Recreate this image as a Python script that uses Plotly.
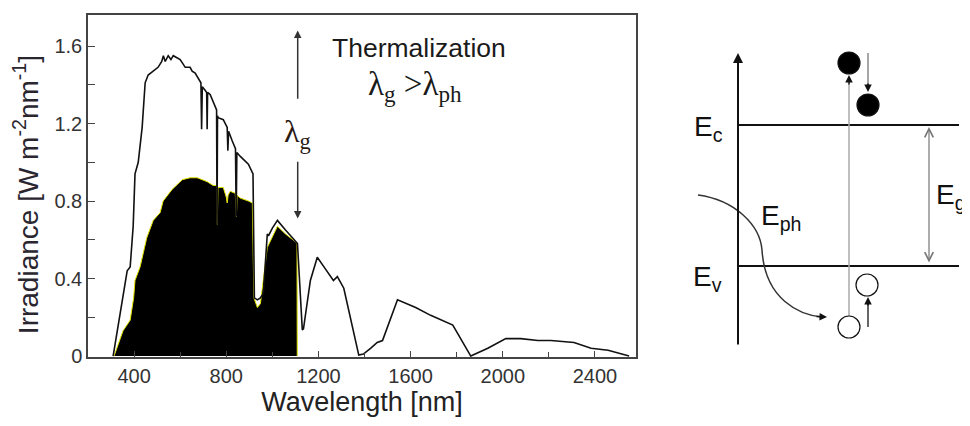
import plotly.graph_objects as go

# ---- data: solar spectrum (outer curve) ----
wl_sun = [309, 339, 370, 383, 396, 404, 418, 435, 448, 461, 483, 504, 520, 527, 535, 548, 560, 570,
          600, 622, 643, 652, 665, 690, 693, 696, 709, 715, 717, 719, 730, 752, 758, 760, 762, 765,
          787, 804, 807, 810, 826, 840, 843, 846, 861, 896, 916, 922, 935, 948, 961, 978, 983, 1000,
          1022, 1035, 1057, 1087, 1100, 1109, 1130, 1135, 1165, 1195, 1230, 1265, 1282, 1310, 1375,
          1395, 1426, 1455, 1478, 1543, 1622, 1687, 1783, 1861, 1935, 2013, 2078, 2152, 2209, 2309,
          2383, 2457, 2548]
irr_sun = [0.0, 0.22, 0.44, 0.46, 0.67, 0.94, 1.00, 1.18, 1.41, 1.45, 1.47, 1.49, 1.52, 1.55, 1.52, 1.55, 1.53, 1.55,
           1.53, 1.49, 1.49, 1.47, 1.46, 1.41, 1.17, 1.39, 1.37, 1.36, 1.17, 1.36, 1.35, 1.29, 1.27, 0.68, 1.24, 1.23,
           1.22, 1.18, 1.06, 1.16, 1.11, 1.07, 0.72, 1.05, 1.03, 0.99, 0.94, 0.30, 0.29, 0.30, 0.325, 0.63, 0.62, 0.66,
           0.70, 0.68, 0.65, 0.61, 0.59, 0.58, 0.135, 0.14, 0.39, 0.51, 0.45, 0.39, 0.41, 0.35, 0.005,
           0.01, 0.04, 0.07, 0.08, 0.29, 0.25, 0.21, 0.16, 0.0, 0.04, 0.09, 0.09, 0.08, 0.08, 0.07,
           0.04, 0.03, 0.0]

# ---- data: usable part (black filled area) ----
wl_use = [313, 352, 383, 398, 404, 426, 455, 483, 513, 526, 565, 609, 643, 674, 717, 743, 759, 761, 764,
          787, 800, 804, 808, 817, 839, 844, 847, 861, 896, 913, 920, 935, 948, 978, 1022, 1057, 1100, 1107, 1108]
irr_use = [0.0, 0.13, 0.185, 0.30, 0.39, 0.46, 0.61, 0.70, 0.74, 0.80, 0.86, 0.91, 0.92, 0.92, 0.90, 0.88, 0.88, 0.68, 0.87,
           0.87, 0.82, 0.79, 0.83, 0.85, 0.84, 0.72, 0.83, 0.815, 0.80, 0.79, 0.30, 0.25, 0.27, 0.56, 0.67, 0.63, 0.59, 0.58, 0.0]

x_tickvals = [400, 800, 1200, 1600, 2000, 2400]
y_tickvals = [0, 0.4, 0.8, 1.2, 1.6]
y_ticktext = ["0", "0.4", "0.8", "1.2", "1.6"]
lambda_g = 1110

# band diagram levels (diagram pixel frame)
E_c = 125
E_v = 266

SANS = "Liberation Sans, Arial, sans-serif"
SERIF = "Liberation Serif, Times New Roman, serif"

fig = go.Figure()
fig.add_trace(go.Scatter(x=wl_use, y=irr_use, mode="lines", fill="tozeroy",
                         fillcolor="black", line=dict(color="#e3e300", width=1),
                         showlegend=False, hoverinfo="skip"))
fig.add_trace(go.Scatter(x=wl_sun, y=irr_sun, mode="lines",
                         line=dict(color="#111", width=1.6),
                         showlegend=False, hoverinfo="skip"))

axis_common = dict(showgrid=False, zeroline=False, showline=True, linecolor="#444",
                   linewidth=1.5, mirror=True, ticks="inside", ticklen=6, tickcolor="#444",
                   tickfont=dict(family=SANS, size=20, color="#333"))
fig.update_layout(
    width=962, height=418,
    margin=dict(l=80, r=0, t=7, b=69),
    paper_bgcolor="white", plot_bgcolor="white",
    xaxis=dict(domain=[0, 548 / 882], range=[200, 2578], tickvals=x_tickvals,
               minor=dict(dtick=200, ticks="inside", ticklen=5, tickcolor="#444"),
               title=dict(text="Wavelength [nm]", font=dict(family=SANS, size=27, color="#222"), standoff=4),
               **axis_common),
    yaxis=dict(range=[-0.005, 1.76], tickvals=y_tickvals, ticktext=y_ticktext,
               minor=dict(dtick=0.2, ticks="inside", ticklen=7, tickcolor="#444"),
               **axis_common),
    xaxis2=dict(domain=[572 / 882, 1], range=[660, 970], visible=False, anchor="y2"),
    yaxis2=dict(domain=[0, 1], range=[357, 15], visible=False, anchor="x2"),
)

ann = []
# y-axis title
ann.append(dict(xref="paper", yref="paper", x=-0.07, y=0.474, showarrow=False, textangle=-90,
                xanchor="center", yanchor="middle",
                text="Irradiance [W m<sup>-2</sup>nm<sup>-1</sup>]",
                font=dict(family=SANS, size=28, color="#2a2630")))
# lambda_g arrows
ann.append(dict(x=lambda_g, y=1.68, ax=lambda_g, ay=1.32, xref="x", yref="y", axref="x", ayref="y",
                showarrow=True, arrowhead=2, arrowsize=1, arrowwidth=1.5, arrowcolor="#333", text=""))
ann.append(dict(x=lambda_g, y=0.71, ax=lambda_g, ay=1.01, xref="x", yref="y", axref="x", ayref="y",
                showarrow=True, arrowhead=2, arrowsize=1, arrowwidth=1.5, arrowcolor="#333", text=""))
ann.append(dict(x=lambda_g, y=1.15, xref="x", yref="y", showarrow=False, text="λ<sub>g</sub>",
                font=dict(family=SERIF, size=32, color="#2a1a14")))
ann.append(dict(x=1635, y=1.59, xref="x", yref="y", showarrow=False, text="Thermalization",
                font=dict(family=SANS, size=26.5, color="#1a1a1a")))
ann.append(dict(x=1617, y=1.39, xref="x", yref="y", showarrow=False, text="λ<sub>g</sub> &gt;λ<sub>ph</sub>",
                font=dict(family=SERIF, size=33, color="#1a1a1a")))

# ---- band diagram ----
def arrow(x, y, ax, ay, color="#111", width=1.5, head=2, side="end", size=1):
    ann.append(dict(x=x, y=y, ax=ax, ay=ay, xref="x2", yref="y2", axref="x2", ayref="y2",
                    showarrow=True, arrowhead=head, arrowsize=size, arrowwidth=width,
                    arrowcolor=color, arrowside=side, text=""))

arrow(738, 53, 738, 346, width=2, head=2, size=1)          # energy axis
arrow(849, 75, 849, 86, width=1.5, head=2)                 # photon arrowhead
arrow(868, 92, 868, 82, width=1.5, head=2)                 # relaxation (electron) head
arrow(868, 297, 868, 307, width=1.5, head=2)               # relaxation (hole) head
arrow(827, 317, 815, 316.5, width=1.5, head=2)             # curved arrow head
arrow(929, 127, 929, 264, color="#777", width=1.2, head=5, side="end+start", size=1.4)  # Eg

def lab(x, y, text, size=28):
    ann.append(dict(x=x, y=y, xref="x2", yref="y2", showarrow=False, text=text,
                    xanchor="left", yanchor="middle", font=dict(family=SANS, size=size, color="#111")))

lab(692, 128, "E<sub>c</sub>")
lab(691, 278, "E<sub>v</sub>")
lab(759, 217, "E<sub>ph</sub>")
lab(934, 196, "E<sub>g</sub>")

shapes = []
def sline(x0, y0, x1, y1, color="#111", width=2):
    shapes.append(dict(type="line", xref="x2", yref="y2", x0=x0, y0=y0, x1=x1, y1=y1,
                       line=dict(color=color, width=width)))

sline(738, E_c, 959, E_c)
sline(738, E_v, 959, E_v)
sline(849, 316, 849, 84, color="#aaa", width=1.5)
sline(868, 53, 868, 86, color="#888", width=1.5)
sline(868, 327, 868, 303, color="#666", width=2)

def circ(cx, cy, r, filled):
    shapes.append(dict(type="circle", xref="x2", yref="y2", x0=cx - r, x1=cx + r, y0=cy - r, y1=cy + r,
                       fillcolor="black" if filled else "white",
                       line=dict(color="#111", width=1.2)))

circ(849, 63, 11, True)
circ(868, 105, 11, True)
circ(867, 285, 11, False)
circ(849, 327, 11, False)

shapes.append(dict(type="path", xref="x2", yref="y2",
                   path="M 698,195 C 735,200 760,225 762,250 C 765,300 800,315 822,317",
                   line=dict(color="#333", width=1.5)))

fig.update_layout(annotations=ann, shapes=shapes)
fig.write_html("out.html")
